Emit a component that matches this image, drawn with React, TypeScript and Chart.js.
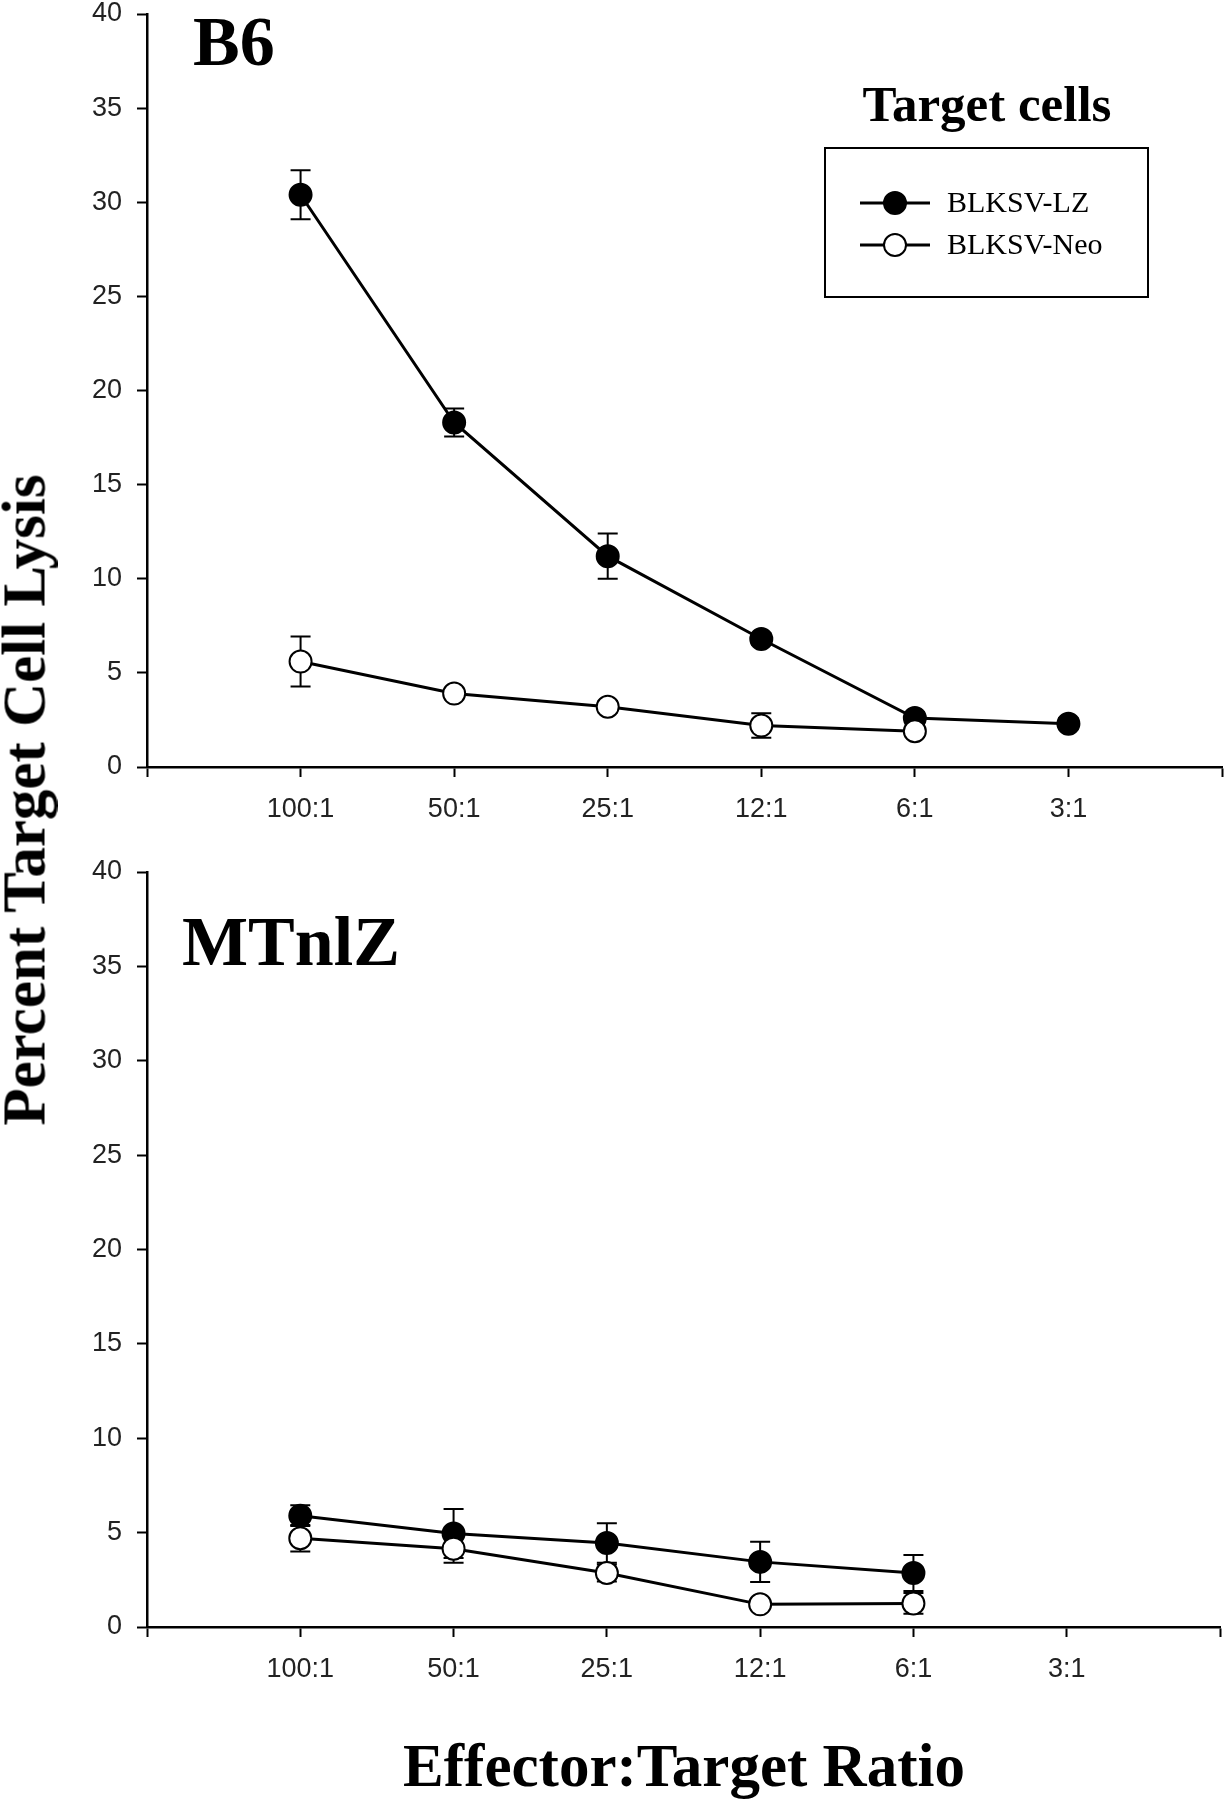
import React, { useEffect, useRef } from 'react';
import { Chart, registerables } from 'chart.js';

Chart.register(...registerables);

// ---- Data ----
const ratioLabels = ['100:1', '50:1', '25:1', '12:1', '6:1', '3:1'];
const seriesNames = ['BLKSV-LZ', 'BLKSV-Neo'];
const legendTitle = 'Target cells';
const yTicks = { min: 0, max: 40, step: 5 };

// Panel B6
const b6LZ = [30.4, 18.3, 11.2, 6.8, 2.6, 2.3];
const b6LZErr = [1.3, 0.75, 1.2, 0.3, 0.3, 0.3];
const b6Neo = [5.6, 3.9, 3.2, 2.2, 1.9, null];
const b6NeoErr = [1.33, 0.3, 0.3, 0.65, 0.3, null];

// Panel MTnlZ
const mtLZ = [5.9, 4.95, 4.45, 3.45, 2.86, null];
const mtLZErr = [0.55, 1.3, 1.05, 1.07, 0.95, null];
const mtNeo = [4.7, 4.15, 2.86, 1.2, 1.25, null];
const mtNeoErr = [0.7, 0.75, 0.45, 0.2, 0.55, null];

const SANS = '"Liberation Sans", Arial, sans-serif';
const SERIF = '"Liberation Serif", "Times New Roman", serif';

const toPoints = (vals: (number | null)[]) =>
  vals.map((v, i) => ({ x: i + 1, y: v }));

const errorBarPlugin = {
  id: 'errorBars',
  beforeDatasetsDraw(chart: any) {
    const { ctx } = chart;
    const x = chart.scales.x;
    const y = chart.scales.y;
    ctx.save();
    ctx.strokeStyle = '#000';
    ctx.lineWidth = 2;
    chart.data.datasets.forEach((ds: any) => {
      const errs = ds.errors;
      if (!errs) return;
      ds.data.forEach((pt: any, i: number) => {
        const e = errs[i];
        if (pt.y == null || e == null) return;
        const px = x.getPixelForValue(pt.x);
        const yt = y.getPixelForValue(pt.y + e);
        const yb = y.getPixelForValue(pt.y - e);
        ctx.beginPath();
        ctx.moveTo(px, yt);
        ctx.lineTo(px, yb);
        ctx.moveTo(px - 10, yt);
        ctx.lineTo(px + 10, yt);
        ctx.moveTo(px - 10, yb);
        ctx.lineTo(px + 10, yb);
        ctx.stroke();
      });
    });
    ctx.restore();
  },
};

const panelLabelPlugin = {
  id: 'panelLabel',
  afterDraw(chart: any, _args: any, opts: any) {
    if (!opts || !opts.text) return;
    const { ctx } = chart;
    ctx.save();
    ctx.fillStyle = '#000';
    ctx.font = `bold ${opts.size}px ${SERIF}`;
    ctx.textBaseline = 'alphabetic';
    ctx.textAlign = 'left';
    ctx.fillText(opts.text, opts.x, opts.y);
    ctx.restore();
  },
};

const boxLegendPlugin = {
  id: 'boxLegend',
  afterDraw(chart: any, _args: any, opts: any) {
    if (!opts || !opts.display) return;
    const { ctx } = chart;
    ctx.save();
    ctx.fillStyle = '#000';
    ctx.font = `bold ${opts.titleSize}px ${SERIF}`;
    ctx.textAlign = 'center';
    ctx.textBaseline = 'middle';
    ctx.fillText(opts.title, opts.titleX, opts.titleY);
    ctx.strokeStyle = '#000';
    ctx.lineWidth = 2;
    const b = opts.box;
    ctx.strokeRect(b.left, b.top, b.right - b.left, b.bottom - b.top);
    chart.data.datasets.forEach((ds: any, i: number) => {
      const yy = opts.entryY + i * opts.entryGap;
      ctx.beginPath();
      ctx.strokeStyle = ds.borderColor;
      ctx.lineWidth = ds.borderWidth;
      ctx.moveTo(opts.lineX0, yy);
      ctx.lineTo(opts.lineX1, yy);
      ctx.stroke();
      const mx = (opts.lineX0 + opts.lineX1) / 2;
      ctx.beginPath();
      ctx.arc(mx, yy, ds.pointRadius, 0, Math.PI * 2);
      ctx.fillStyle = ds.pointBackgroundColor;
      ctx.fill();
      ctx.lineWidth = ds.pointBorderWidth;
      ctx.strokeStyle = ds.pointBorderColor;
      ctx.stroke();
      ctx.fillStyle = '#000';
      ctx.font = `${opts.textSize}px ${SERIF}`;
      ctx.textAlign = 'left';
      ctx.textBaseline = 'middle';
      ctx.fillText(ds.label, opts.textX, yy + 1);
    });
    ctx.restore();
  },
};

function makeDataset(label: string, vals: (number | null)[], errs: (number | null)[], filled: boolean, order: number) {
  return {
    label,
    data: toPoints(vals),
    errors: errs,
    borderColor: '#000',
    borderWidth: 3,
    pointRadius: 11,
    pointHoverRadius: 11,
    pointBorderWidth: 2,
    pointBorderColor: '#000',
    pointBackgroundColor: filled ? '#000' : '#fff',
    backgroundColor: filled ? '#000' : '#fff',
    tension: 0,
    spanGaps: false,
    order,
  };
}

function buildConfig(datasets: any[], panel: any, legend: any, rightPad: number) {
  return {
    type: 'line',
    data: { datasets },
    plugins: [errorBarPlugin, panelLabelPlugin, boxLegendPlugin],
    options: {
      responsive: false,
      animation: false,
      layout: { autoPadding: false, padding: { top: 14, left: 0, right: rightPad, bottom: 0 } },
      plugins: {
        legend: { display: false },
        tooltip: { enabled: false },
        title: { display: false },
        panelLabel: panel,
        boxLegend: legend,
      },
      scales: {
        x: {
          type: 'linear',
          min: 0,
          max: ratioLabels.length + 1,
          afterFit: (s: any) => {
            s.height = 62;
            s.paddingLeft = 0;
            s.paddingRight = 0;
          },
          ticks: {
            stepSize: 1,
            autoSkip: false,
            maxRotation: 0,
            color: '#222',
            padding: 16,
            font: { family: SANS, size: 27 },
            callback: (v: any) => {
              const idx = Math.round(v) - 1;
              return idx >= 0 && idx < ratioLabels.length ? ratioLabels[idx] : '';
            },
          },
          grid: { drawOnChartArea: false, drawTicks: true, tickLength: 10, tickColor: '#000', tickWidth: 2, color: '#000' },
          border: { display: true, color: '#000', width: 2.5 },
        },
        y: {
          type: 'linear',
          min: yTicks.min,
          max: yTicks.max,
          afterFit: (s: any) => {
            s.width = 147;
            s.paddingTop = 0;
            s.paddingBottom = 0;
          },
          ticks: {
            stepSize: yTicks.step,
            color: '#222',
            padding: 15,
            font: { family: SANS, size: 27 },
          },
          grid: { drawOnChartArea: false, drawTicks: true, tickLength: 10, tickColor: '#000', tickWidth: 2, color: '#000' },
          border: { display: true, color: '#000', width: 2.5 },
        },
      },
    },
  };
}

function ChartCanvas({ config, width, height, style }: any) {
  const ref = useRef<HTMLCanvasElement | null>(null);
  useEffect(() => {
    if (!ref.current) return;
    const chart = new Chart(ref.current, config);
    return () => chart.destroy();
  }, []);
  return <canvas ref={ref} width={width} height={height} style={{ position: 'absolute', width, height, ...style }} />;
}

export default function App() {
  const topConfig = buildConfig(
    [
      makeDataset(seriesNames[0], b6LZ, b6LZErr, true, 1),
      makeDataset(seriesNames[1], b6Neo, b6NeoErr, false, 0),
    ],
    { text: 'B6', x: 193, y: 65, size: 70 },
    {
      display: true,
      title: legendTitle,
      titleSize: 51,
      titleX: 987,
      titleY: 108,
      box: { left: 825, top: 148, right: 1148, bottom: 297 },
      entryY: 203,
      entryGap: 42,
      lineX0: 860,
      lineX1: 930,
      textX: 947,
      textSize: 30,
    },
    4
  );
  const bottomConfig = buildConfig(
    [
      makeDataset(seriesNames[0], mtLZ, mtLZErr, true, 1),
      makeDataset(seriesNames[1], mtNeo, mtNeoErr, false, 0),
    ],
    { text: 'MTnlZ', x: 182, y: 107, size: 70 },
    { display: false },
    6
  );

  return (
    <div style={{ position: 'absolute', left: 0, top: 0, width: 1226, height: 1800, background: '#fff', overflow: 'hidden' }}>
      <ChartCanvas config={topConfig} width={1226} height={829} style={{ left: 0, top: 0 }} />
      <ChartCanvas config={bottomConfig} width={1226} height={831} style={{ left: 0, top: 858 }} />
      <div
        style={{
          position: 'absolute',
          left: 24,
          top: 800,
          transform: 'translate(-50%, -50%) rotate(-90deg)',
          whiteSpace: 'nowrap',
          fontFamily: SERIF,
          fontWeight: 'bold',
          fontSize: 61,
          lineHeight: 1,
          color: '#000',
        }}
      >
        Percent Target Cell Lysis
      </div>
      <div
        style={{
          position: 'absolute',
          left: 684,
          top: 1765,
          transform: 'translate(-50%, -50%)',
          whiteSpace: 'nowrap',
          fontFamily: SERIF,
          fontWeight: 'bold',
          fontSize: 61,
          lineHeight: 1,
          color: '#000',
        }}
      >
        Effector:Target Ratio
      </div>
    </div>
  );
}
